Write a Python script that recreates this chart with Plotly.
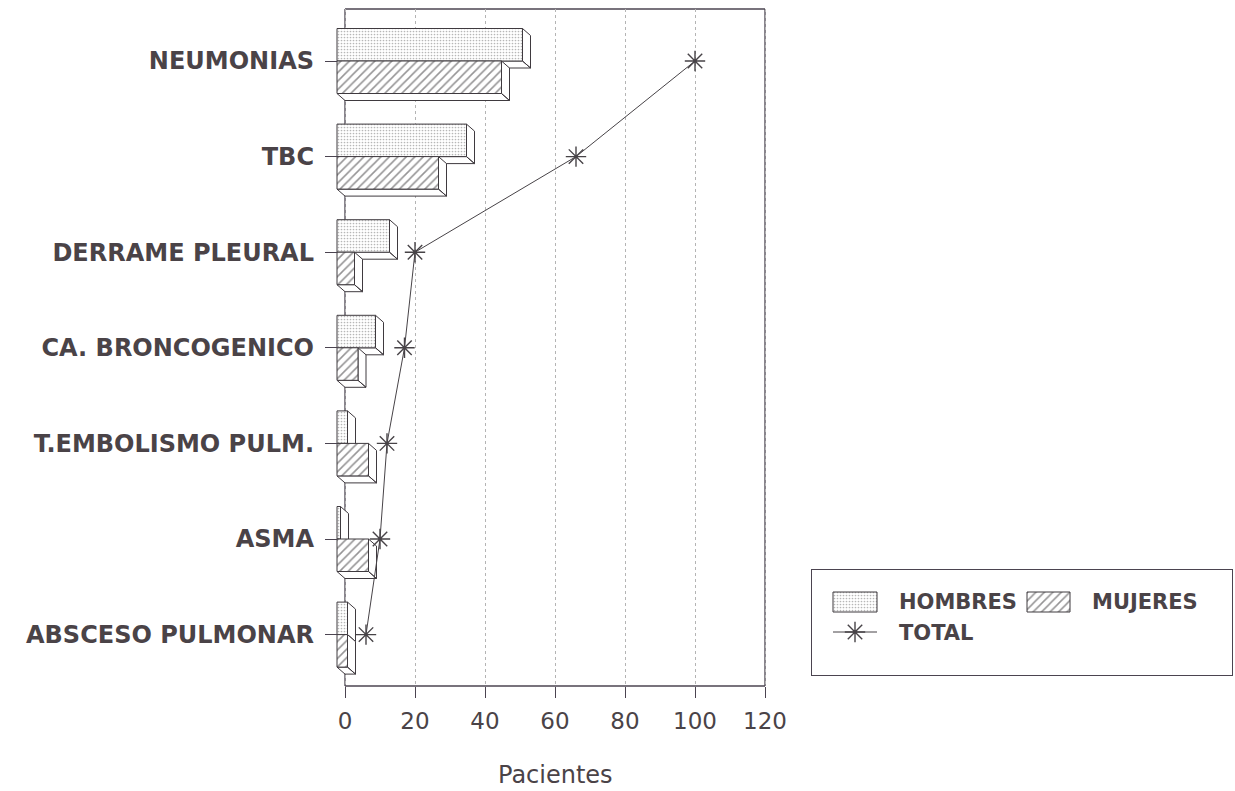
import plotly.graph_objects as go

# ---- data -------------------------------------------------------------
categorias = ["NEUMONIAS", "TBC", "DERRAME PLEURAL", "CA. BRONCOGENICO",
              "T.EMBOLISMO PULM.", "ASMA", "ABSCESO PULMONAR"]
hombres = [53, 37, 15, 11, 3, 1, 3]
mujeres = [47, 29, 5, 6, 9, 9, 3]
total = [100, 66, 20, 17, 12, 10, 6]
x_ticks = [0, 20, 40, 60, 80, 100, 120]

# ---- page geometry ------------------------------------------------------
W, H = 1252, 791            # layout size
SCREEN_W = 1235             # horizontal pixel grid used for placement below
PL, PR, PT, PB = 325, 770, 9, 686          # main plot area
PX_PER_UNIT = 3.5
X0_PX = 345                                # pixel of value 0
ROW_PX = 95.6
ROW0_PX = 61
X_RANGE = [(PL - X0_PX) / PX_PER_UNIT, (PR - X0_PX) / PX_PER_UNIT]
Y_RANGE = [(PB - ROW0_PX) / ROW_PX, (PT - ROW0_PX) / ROW_PX]


def fx(px):
    return px / SCREEN_W


def fy(py):
    return 1 - py / H


DEPTH_X = 8 / PX_PER_UNIT                  # 3-D extrusion of the bars
DEPTH_Y = 7 / ROW_PX
BAR_H = 0.34

INK = "#3f3a3f"
TEXT = "#4a4347"
FRAME = "#4b4450"
STAR = "#474347"

DOTS = dict(shape=".", fgcolor="#707070", bgcolor="white", size=3, solidity=0.25)
HATCH = dict(shape="/", fgcolor="#2c2a2c", bgcolor="white", size=6, solidity=0.26)


def bar_faces(values, top_offset):
    """Front, right and bottom faces of extruded horizontal bars."""
    front_x, front_y, side_x, side_y = [], [], [], []
    for i, v in enumerate(values):
        y0 = i + top_offset
        y1 = y0 + BAR_H
        xl, xr = -DEPTH_X, v - DEPTH_X
        front_x += [xl, xr, xr, xl, xl, None]
        front_y += [y0, y0, y1, y1, y0, None]
        # right face
        side_x += [xr, v, v, xr, xr, None]
        side_y += [y0, y0 + DEPTH_Y, y1 + DEPTH_Y, y1, y0, None]
        # bottom face
        side_x += [xl, xr, v, 0, xl, None]
        side_y += [y1, y1, y1 + DEPTH_Y, y1 + DEPTH_Y, y1, None]
    return front_x, front_y, side_x, side_y


fig = go.Figure()

for values, offset, pattern in ((hombres, -BAR_H, DOTS), (mujeres, 0.0, HATCH)):
    bx, by, sx, sy = bar_faces(values, offset)
    fig.add_trace(go.Scatter(x=sx, y=sy, mode="lines", fill="toself",
                             fillcolor="white", line=dict(color=INK, width=1),
                             hoverinfo="skip", showlegend=False))
    fig.add_trace(go.Scatter(x=bx, y=by, mode="lines", fill="toself",
                             fillcolor="white", fillpattern=pattern,
                             line=dict(color=INK, width=1),
                             hoverinfo="skip", showlegend=False))

fig.add_trace(go.Scatter(
    x=total, y=list(range(len(categorias))), mode="lines+markers",
    line=dict(color=STAR, width=1),
    marker=dict(symbol="asterisk-open", size=17, color=STAR,
                line=dict(color=STAR, width=1.4)),
    showlegend=False, name="TOTAL"))

# ---- legend (drawn on its own small axes) -------------------------------
LX0, LX1, LY0, LY1 = 812, 1232, 570, 675
fig.add_trace(go.Scatter(x=[833, 877, 877, 833, 833], y=[592, 592, 612, 612, 592],
                         mode="lines", fill="toself", fillcolor="white",
                         fillpattern=DOTS, line=dict(color=INK, width=1),
                         xaxis="x2", yaxis="y2", showlegend=False, hoverinfo="skip"))
fig.add_trace(go.Scatter(x=[1027, 1070, 1070, 1027, 1027], y=[592, 592, 612, 612, 592],
                         mode="lines", fill="toself", fillcolor="white",
                         fillpattern=HATCH, line=dict(color=INK, width=1),
                         xaxis="x2", yaxis="y2", showlegend=False, hoverinfo="skip"))
fig.add_trace(go.Scatter(x=[833, 877], y=[632, 632], mode="lines",
                         line=dict(color=STAR, width=1),
                         xaxis="x2", yaxis="y2", showlegend=False, hoverinfo="skip"))
fig.add_trace(go.Scatter(x=[855], y=[632], mode="markers",
                         marker=dict(symbol="asterisk-open", size=17, color=STAR,
                                     line=dict(color=STAR, width=1.4)),
                         xaxis="x2", yaxis="y2", showlegend=False, hoverinfo="skip"))

legend_font = dict(family="DejaVu Sans", size=21, color=TEXT, weight="bold")
for txt, lx, ly in (("HOMBRES", 897, 602), ("MUJERES", 1090, 602), ("TOTAL", 897, 633)):
    fig.add_annotation(x=lx, y=ly, xref="x2", yref="y2", text=txt, showarrow=False,
                       xanchor="left", yanchor="middle", font=legend_font)

# ---- frame, axis line ----------------------------------------------------
frame = dict(color=FRAME, width=1.3)
fig.add_shape(type="line", xref="x", yref="y domain", x0=0, x1=0, y0=0, y1=1,
              line=frame, layer="below")
fig.add_shape(type="line", xref="x", yref="y domain", x0=0, x1=120, y0=1, y1=1,
              line=frame, layer="below")
fig.add_shape(type="line", xref="x", yref="y domain", x0=120, x1=120, y0=0, y1=1,
              line=frame, layer="below")
fig.add_shape(type="line", xref="x", yref="y domain", x0=0, x1=120, y0=0, y1=0,
              line=dict(color=FRAME, width=1.6), layer="above")

fig.add_annotation(x=60, y=fy(775), xref="x", yref="paper", text="Pacientes",
                   showarrow=False, xanchor="center", yanchor="middle",
                   font=dict(family="DejaVu Sans", size=24, color=TEXT))

fig.update_layout(
    width=W, height=H,
    margin=dict(l=0, r=0, t=0, b=0),
    paper_bgcolor="white", plot_bgcolor="white",
    showlegend=False,
    xaxis=dict(domain=[fx(PL), fx(PR)], range=X_RANGE, tickvals=x_ticks,
               ticks="outside", ticklen=11, tickwidth=1.3, tickcolor=FRAME,
               ticklabelstandoff=3,
               showgrid=True, griddash="dot", gridcolor="#b4b4b4", gridwidth=1,
               zeroline=False, showline=False,
               tickfont=dict(family="DejaVu Sans", size=23, color=TEXT)),
    yaxis=dict(domain=[fy(PB), fy(PT)], range=Y_RANGE,
               tickvals=list(range(len(categorias))), ticktext=categorias,
               ticks="inside", ticklen=12, tickwidth=1.2, tickcolor=FRAME,
               ticklabelstandoff=10,
               showgrid=False, zeroline=False, showline=False,
               tickfont=dict(family="DejaVu Sans", size=24, color=TEXT, weight="bold")),
    xaxis2=dict(domain=[fx(LX0), fx(LX1)], range=[LX0, LX1], anchor="y2",
                showline=True, mirror=True, linecolor=FRAME, linewidth=1.4,
                showgrid=False, zeroline=False, showticklabels=False, ticks=""),
    yaxis2=dict(domain=[fy(LY1), fy(LY0)], range=[LY1, LY0], anchor="x2",
                showline=True, mirror=True, linecolor=FRAME, linewidth=1.4,
                showgrid=False, zeroline=False, showticklabels=False, ticks=""),
)

fig.write_html("out.html")
